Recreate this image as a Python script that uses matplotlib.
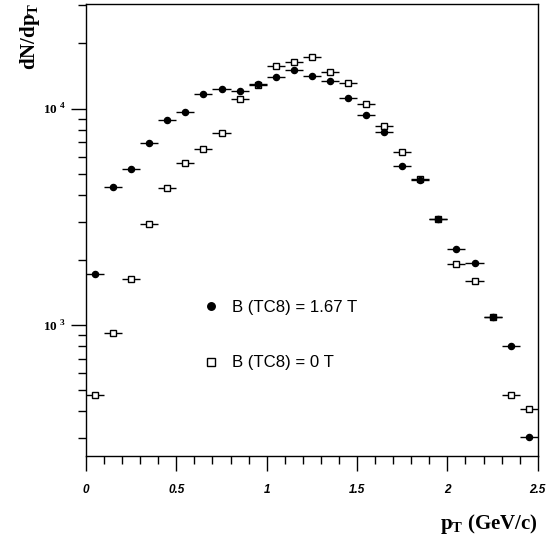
import numpy as np
import matplotlib
matplotlib.use("Agg")
import matplotlib.pyplot as plt
from matplotlib.lines import Line2D
from matplotlib.ticker import FixedLocator, LogLocator, NullFormatter, MultipleLocator

plt.rcParams['mathtext.fontset'] = 'custom'
plt.rcParams['mathtext.it'] = 'Liberation Sans:bold:italic'
plt.rcParams['mathtext.rm'] = 'Liberation Serif:bold'

# bin centres (GeV/c)
pt = [0.05, 0.15, 0.25, 0.35, 0.45, 0.55, 0.65, 0.75, 0.85, 0.95,
      1.05, 1.15, 1.25, 1.35, 1.45, 1.55, 1.65, 1.75, 1.85, 1.95,
      2.05, 2.15, 2.25, 2.35, 2.45]

# B (TC8) = 1.67 T
n_field = [1717, 4325, 5250, 6920, 8830, 9600, 11720, 12280, 12020, 13000,
           14000, 15080, 14130, 13430, 11170, 9310, 7780, 5460, 4660, 3090,
           2250, 1945, 1096, 800, 304]
# B (TC8) = 0 T
n_nofield = [475, 918, 1633, 2930, 4300, 5620, 6520, 7690, 11100, 12900,
             15740, 16410, 17380, 14830, 13120, 10520, 8280, 6310, 4720, 3100,
             1910, 1600, 1090, 475, 408]

fig = plt.figure(figsize=(5.51, 5.44), dpi=100)
ax = fig.add_axes([0.156, 0.162, 0.82, 0.831])

ax.errorbar(pt, n_nofield, xerr=0.05, fmt='s', mfc='white', mec='black',
            ms=4.6, mew=1.0, ecolor='black', elinewidth=1.0, capsize=0, zorder=2)
ax.errorbar(pt, n_field, xerr=0.05, fmt='o', color='black',
            ms=4.4, ecolor='black', elinewidth=1.0, capsize=0, zorder=3)

ax.set_yscale('log')
ax.set_xlim(0, 2.5)
ax.set_ylim(249, 30500)

ax.xaxis.set_minor_locator(MultipleLocator(0.1))
ax.set_xticks([0, 0.5, 1, 1.5, 2, 2.5])
ax.set_xticklabels(['0', '0.5', '1', '1.5', '2', '2.5'])
ax.yaxis.set_major_locator(FixedLocator([1000, 10000]))
ax.yaxis.set_minor_locator(LogLocator(base=10, subs=np.arange(2, 10)))
ax.yaxis.set_minor_formatter(NullFormatter())
ax.set_yticklabels([r'$\mathit{10^{\ 3}}$', r'$\mathit{10^{\ 4}}$'], fontsize=9.5)

for lab in ax.get_xticklabels():
    lab.set_fontfamily('Liberation Sans')
    lab.set_fontweight('bold')
    lab.set_fontstyle('italic')
    lab.set_fontsize(8.5)

ax.tick_params(axis='x', which='major', direction='out', length=11, width=1, pad=9)
ax.tick_params(axis='x', which='minor', direction='out', length=6, width=1)
ax.tick_params(axis='y', which='major', direction='out', length=11, width=1, pad=4)
ax.tick_params(axis='y', which='minor', direction='out', length=6, width=1)

for s in ax.spines.values():
    s.set_linewidth(1.0)

fig.text(0.977, 0.036, r'p$_\mathregular{T}$ (GeV/c)', ha='right', va='center',
         family='Liberation Serif', weight='bold', fontsize=15)
fig.text(0.055, 0.996, r'dN/dp$_\mathregular{T}$', ha='center', va='top', rotation=90,
         family='Liberation Serif', weight='bold', fontsize=15)

handles = [Line2D([], [], ls='none', marker='o', color='black', ms=5.4),
           Line2D([], [], ls='none', marker='s', mfc='white', mec='black', ms=6)]
ax.legend(handles, ['B (TC8) = 1.67 T', 'B (TC8) = 0 T'], loc='upper left',
          bbox_to_anchor=(0.228, 0.378), frameon=False, handlelength=0.8,
          handletextpad=0.85, labelspacing=2.4,
          prop={'family': 'Liberation Sans', 'size': 12.1})

fig.savefig('out.png', dpi=100)
